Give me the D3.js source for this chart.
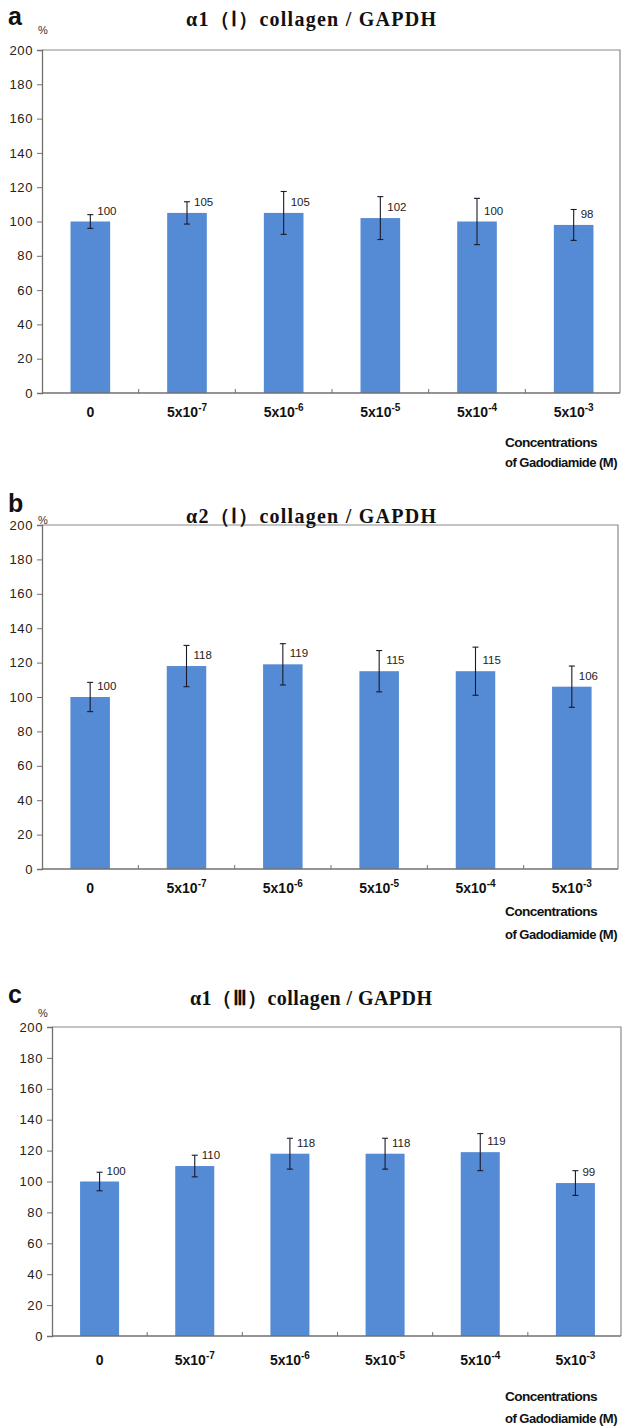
<!DOCTYPE html>
<html>
<head>
<meta charset="utf-8">
<script src="https://cdn.jsdelivr.net/npm/d3@7"></script>
<style>
  body { margin: 0; background: #fff; }
  svg { display: block; }
</style>
</head>
<body>
<div id="chart"></div>
<script>
// concentrations of gadodiamide (M): mantissa x 10^exponent, first is control
var concBase = ["0", "5x10", "5x10", "5x10", "5x10", "5x10"];
var concExp = ["", "-7", "-6", "-5", "-4", "-3"];
var yTicks = [0, 20, 40, 60, 80, 100, 120, 140, 160, 180, 200];

// a: alpha1(I) collagen / GAPDH
var a1IValues = [100, 105, 105, 102, 100, 98];
var a1IErr = [4, 6.5, 12.5, 12.5, 13.5, 9];
// b: alpha2(I) collagen / GAPDH
var a2IValues = [100, 118, 119, 115, 115, 106];
var a2IErr = [8.5, 12, 12, 12, 14, 12];
// c: alpha1(III) collagen / GAPDH
var a1IIIValues = [100, 110, 118, 118, 119, 99];
var a1IIIErr = [6, 7, 10, 10, 12, 8];

var W = 622, H = 1426;
var svg = d3.select("#chart").append("svg")
    .attr("width", W)
    .attr("height", H);

var barColor = "#558ad4";

function drawPanel(p){
    var g = svg.append("g");

    var x = d3.scaleBand()
        .domain(d3.range(p.values.length))
        .range([p.left, p.right])
        .paddingInner(0.59)
        .paddingOuter(0.295);
    var step = (p.right - p.left) / p.values.length;

    var y = d3.scaleLinear()
        .domain([0, 200])
        .range([p.bottom, p.top]);

    // plot frame (top + right)
    g.append("path")
        .attr("d", "M" + p.left + "," + p.top + "H" + (p.right - 2) + "V" + p.bottom)
        .attr("fill", "none")
        .attr("stroke", "#8a8a8a")
        .attr("stroke-width", 1.2);

    // y axis
    var yAxis = g.append("g")
        .attr("transform", "translate(" + p.left + ",0)")
        .call(d3.axisLeft(y).tickValues(yTicks).tickSize(5).tickPadding(4));
    yAxis.select(".domain").attr("stroke", "#707070").attr("stroke-width", 1.3);
    yAxis.selectAll(".tick line").attr("stroke", "#707070");
    yAxis.selectAll("text")
        .attr("font-family", "Liberation Sans, Arial, sans-serif")
        .attr("font-size", "13px")
        .attr("letter-spacing", "0.6")
        .attr("fill", "#222");

    // bars
    g.selectAll("rect.bar")
        .data(p.values)
        .enter().append("rect")
        .attr("class", "bar")
        .attr("x", function(d, i){ return x(i); })
        .attr("width", x.bandwidth())
        .attr("y", function(d){ return y(d); })
        .attr("height", function(d){ return p.bottom - y(d); })
        .attr("fill", barColor);

    // x axis baseline with category ticks between groups
    g.append("line")
        .attr("x1", p.left).attr("x2", p.right - 2)
        .attr("y1", p.bottom).attr("y2", p.bottom)
        .attr("stroke", "#707070").attr("stroke-width", 1.3);
    g.selectAll("line.ctick")
        .data(d3.range(1, p.values.length))
        .enter().append("line")
        .attr("class", "ctick")
        .attr("x1", function(d){ return p.left + d * step; })
        .attr("x2", function(d){ return p.left + d * step; })
        .attr("y1", p.bottom).attr("y2", p.bottom - 4)
        .attr("stroke", "#707070");

    // error bars
    var eb = g.selectAll("g.err")
        .data(p.values)
        .enter().append("g")
        .attr("class", "err")
        .attr("stroke", "#1a1a2a")
        .attr("stroke-width", 1.1);
    eb.append("line")
        .attr("x1", function(d, i){ return x(i) + x.bandwidth() / 2; })
        .attr("x2", function(d, i){ return x(i) + x.bandwidth() / 2; })
        .attr("y1", function(d, i){ return y(d + p.err[i]); })
        .attr("y2", function(d, i){ return y(d - p.err[i]); });
    [1, -1].forEach(function(s){
        eb.append("line")
            .attr("x1", function(d, i){ return x(i) + x.bandwidth() / 2 - 3; })
            .attr("x2", function(d, i){ return x(i) + x.bandwidth() / 2 + 3; })
            .attr("y1", function(d, i){ return y(d + s * p.err[i]); })
            .attr("y2", function(d, i){ return y(d + s * p.err[i]); });
    });

    // value labels
    g.selectAll("text.val")
        .data(p.values)
        .enter().append("text")
        .attr("class", "val")
        .attr("x", function(d, i){ return x(i) + x.bandwidth() / 2 + 7; })
        .attr("y", function(d){ return y(d) - 7; })
        .attr("font-family", "Liberation Sans, Arial, sans-serif")
        .attr("font-size", "11.5px")
        .attr("fill", "#222")
        .text(function(d){ return d; });

    // category labels with superscript exponents
    var cl = g.selectAll("text.cat")
        .data(concBase)
        .enter().append("text")
        .attr("class", "cat")
        .attr("x", function(d, i){ return x(i) + x.bandwidth() / 2; })
        .attr("y", p.catY)
        .attr("text-anchor", "middle")
        .attr("font-family", "Liberation Sans, Arial, sans-serif")
        .attr("font-size", "14px")
        .attr("font-weight", "bold")
        .attr("fill", "#111");
    cl.append("tspan").text(function(d){ return d; });
    cl.append("tspan")
        .attr("dy", -6)
        .attr("font-size", "10px")
        .text(function(d, i){ return concExp[i]; });

    // axis title at lower right
    [["Concentrations", p.conc1Y, 92], ["of Gadodiamide (M)", p.conc2Y, 112]].forEach(function(t){
        g.append("text")
            .attr("x", 505)
            .attr("y", t[1])
            .attr("font-family", "Liberation Sans, Arial, sans-serif")
            .attr("font-size", "12px")
            .attr("font-weight", "bold")
            .attr("letter-spacing", "-0.5")
            .attr("textLength", t[2])
            .attr("lengthAdjust", "spacingAndGlyphs")
            .attr("fill", "#111")
            .text(t[0]);
    });

    // panel letter, % unit, title
    g.append("text")
        .attr("x", 8).attr("y", p.letterY)
        .attr("font-family", "Liberation Sans, Arial, sans-serif")
        .attr("font-size", "25px")
        .attr("font-weight", "bold")
        .attr("fill", "#111")
        .text(p.letter);
    g.append("text")
        .attr("x", p.pctX).attr("y", p.pctY)
        .attr("font-family", "Liberation Sans, Arial, sans-serif")
        .attr("font-size", "11px")
        .attr("fill", "#333")
        .text("%");
    g.append("text")
        .attr("x", 311).attr("y", p.titleY)
        .attr("text-anchor", "middle")
        .attr("font-family", "Liberation Serif, Times New Roman, serif")
        .attr("font-size", "20px")
        .attr("font-weight", "bold")
        .attr("textLength", p.titleW)
        .attr("lengthAdjust", "spacing")
        .attr("fill", "#111")
        .text(p.title);
}

drawPanel({
    letter: "a", title: "α1（Ⅰ）collagen / GAPDH", titleW: 250,
    values: a1IValues, err: a1IErr,
    left: 42, right: 622, top: 50, bottom: 393,
    letterY: 25, pctX: 38, pctY: 34, titleY: 26,
    catY: 417, conc1Y: 447, conc2Y: 467
});

drawPanel({
    letter: "b", title: "α2（Ⅰ）collagen / GAPDH", titleW: 250,
    values: a2IValues, err: a2IErr,
    left: 42, right: 620, top: 525, bottom: 869,
    letterY: 512, pctX: 38, pctY: 524, titleY: 523,
    catY: 893, conc1Y: 916, conc2Y: 939
});

drawPanel({
    letter: "c", title: "α1（Ⅲ）collagen / GAPDH", titleW: 242,
    values: a1IIIValues, err: a1IIIErr,
    left: 52, right: 623, top: 1027, bottom: 1336,
    letterY: 1003, pctX: 38, pctY: 1017, titleY: 1005,
    catY: 1365, conc1Y: 1401, conc2Y: 1423
});
</script>
</body>
</html>
